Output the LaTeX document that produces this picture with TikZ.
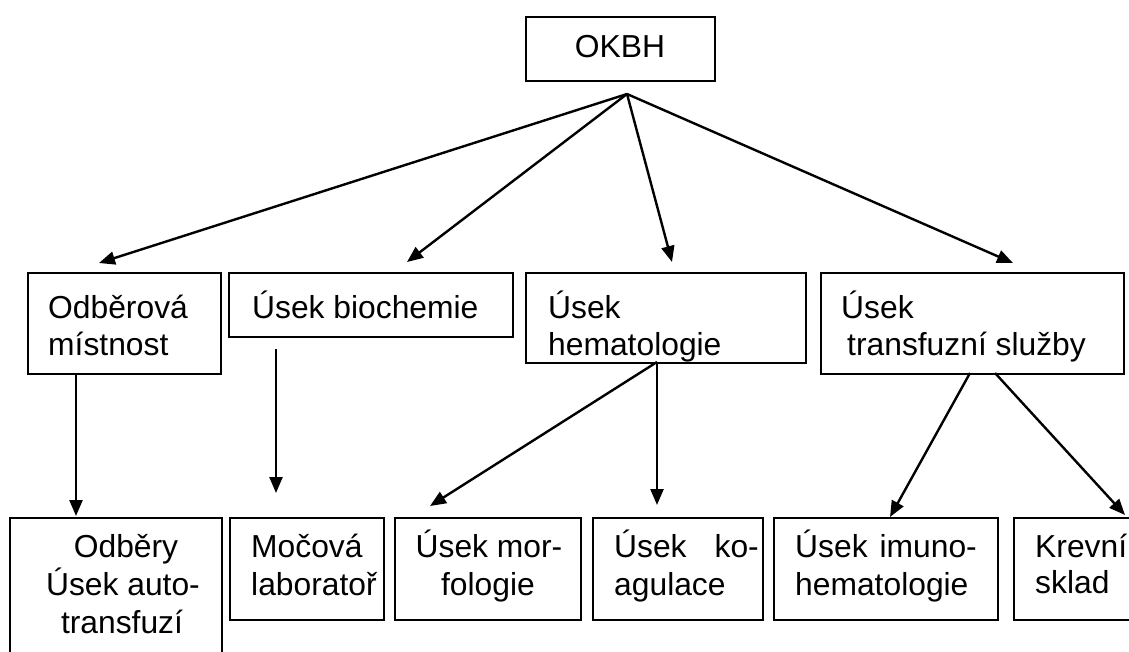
\documentclass[tikz,border=0pt]{standalone}
\usepackage{fontspec}
\setmainfont{Liberation Sans}
\usetikzlibrary{arrows.meta}
\begin{document}
\begin{tikzpicture}[x=1pt,y=-1pt,
  box/.style={draw, line width=1.6pt, inner sep=0pt, anchor=north west},
  lbl/.style={inner sep=0pt, anchor=base west, font=\fontsize{31.8}{37.5}\selectfont},
  clbl/.style={lbl, anchor=base},
  rlbl/.style={lbl, anchor=base east},
  conn/.style={line width=2.4pt, -{Triangle[length=16pt,width=13pt]}}]
\useasboundingbox (0,0) rectangle (1129,651);
\clip (0,0) rectangle (1129,651);
\fill[white] (0,0) rectangle (1129,651);
% boxes
\node[box, minimum width=189pt, minimum height=64pt] (okbh) at (525,16) {};
\node[box, minimum width=193pt, minimum height=101pt] (odb) at (27,272) {};
\node[box, minimum width=284pt, minimum height=64pt] (bio) at (228,272) {};
\node[box, minimum width=280pt, minimum height=90pt] (hem) at (525,272) {};
\node[box, minimum width=303pt, minimum height=101pt] (tra) at (820,272) {};
\node[box, minimum width=212pt, minimum height=160pt] (odb2) at (9,517) {};
\node[box, minimum width=154pt, minimum height=102pt] (moc) at (229,517) {};
\node[box, minimum width=186pt, minimum height=102pt] (mor) at (394,517) {};
\node[box, minimum width=170pt, minimum height=102pt] (koa) at (592,517) {};
\node[box, minimum width=224pt, minimum height=102pt] (imu) at (773,517) {};
\node[box, minimum width=150pt, minimum height=102pt] (kre) at (1013,517) {};
% texts
\node[clbl] (tokbh) at (620,57) {OKBH};
\node[lbl] (todb1) at (48,318) {Odběrová};
\node[lbl] (todb2) at (48,355) {místnost};
\node[lbl] (tbio) at (252,318) {Úsek biochemie};
\node[lbl] (them1) at (548,318) {Úsek};
\node[lbl] (them2) at (548,355) {hematologie};
\node[lbl] (ttra1) at (841,318) {Úsek};
\node[lbl] (ttra2) at (847,355) {transfuzní služby};
\node[clbl] (todbA) at (126,557) {Odběry};
\node[clbl] (todbB) at (123,595) {Úsek auto-};
\node[clbl] (todbC) at (122,633) {transfuzí};
\node[lbl] (tmoc1) at (251,557) {Močová};
\node[lbl] (tmoc2) at (251,595) {laboratoř};
\node[clbl] (tmor1) at (489,557) {Úsek mor-};
\node[clbl] (tmor2) at (488,595) {fologie};
\node[lbl] (tkoa1) at (614,557) {Úsek};
\node[rlbl] (tkoa2) at (759,557) {ko-};
\node[lbl] (tkoa3) at (614,595) {agulace};
\node[lbl] (timu1) at (795,557) {Úsek};
\node[rlbl] (timu2) at (977,557) {imuno-};
\node[lbl] (timu3) at (795,595) {hematologie};
\node[lbl] (tkre1) at (1035,557) {Krevní};
\node[lbl] (tkre2) at (1035,593) {sklad};
% connector points
\coordinate (hub) at (627,94);
\coordinate (e1) at (99,263);
\coordinate (e2) at (407,262);
\coordinate (e3) at (672,262);
\coordinate (e4) at (1013,263);
\coordinate (s5) at (76,373);
\coordinate (e5) at (76,516);
\coordinate (s6) at (276,349);
\coordinate (e6) at (276,493);
\coordinate (hhub) at (657,362);
\coordinate (e7) at (430,506);
\coordinate (e8) at (657,505);
\coordinate (s9) at (970,373);
\coordinate (e9) at (890,517);
\coordinate (s10) at (995,373);
\coordinate (e10) at (1125,515);
% connectors
\draw[conn] (hub) -- (e1);
\draw[conn] (hub) -- (e2);
\draw[conn] (hub) -- (e3);
\draw[conn] (hub) -- (e4);
\draw[conn] (s5) -- (e5);
\draw[conn] (s6) -- (e6);
\draw[conn] (hhub) -- (e7);
\draw[conn] (hhub) -- (e8);
\draw[conn] (s9) -- (e9);
\draw[conn] (s10) -- (e10);
\end{tikzpicture}
\end{document}
